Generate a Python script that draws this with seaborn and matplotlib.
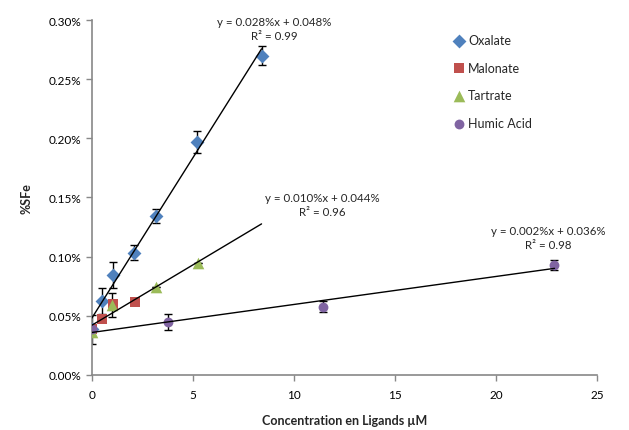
import numpy as np
import pandas as pd
import matplotlib
matplotlib.use("Agg")
import matplotlib.pyplot as plt
import seaborn as sns
from matplotlib.ticker import FuncFormatter, MultipleLocator

# values (y in %SFe, already as percent)
oxalate_x = [0, 0.51, 1.05, 2.09, 3.17, 5.21, 8.4]
oxalate_y = [0.0384, 0.0623, 0.0843, 0.1032, 0.1345, 0.197, 0.270]
oxalate_err = [0.0123, 0.011, 0.011, 0.0063, 0.006, 0.009, 0.0079]

malonate_x = [0, 0.51, 1.03, 2.13]
malonate_y = [0.0384, 0.0471, 0.060, 0.0618]

tartrate_x = [0, 1.02, 3.17, 5.26]
tartrate_y = [0.0365, 0.059, 0.0745, 0.0942]
tartrate_err = [0.0, 0.0105, 0.0, 0.0]

humic_x = [0, 3.78, 11.45, 22.9]
humic_y = [0.0384, 0.0449, 0.0576, 0.0927]
humic_err = [0.0, 0.0066, 0.0045, 0.0040]

eq_oxalate = "y = 0.028%x + 0.048%\nR² = 0.99"
eq_tartrate = "y = 0.010%x + 0.044%\nR² = 0.96"
eq_humic = "y = 0.002%x + 0.036%\nR² = 0.98"

sns.set_style("white")
plt.rcParams["font.family"] = ["Lato", "DejaVu Sans"]

fig = plt.figure(figsize=(6.29, 4.31), dpi=100)
ax = fig.add_axes([0.146, 0.128, 0.803, 0.823])

series = [
    ("Oxalate", oxalate_x, oxalate_y, oxalate_err, "D", "#4F81BD", 50),
    ("Malonate", malonate_x, malonate_y, None, "s", "#C0504D", 50),
    ("Tartrate", tartrate_x, tartrate_y, tartrate_err, "^", "#9BBB59", 70),
    ("Humic Acid", humic_x, humic_y, humic_err, "o", "#8064A2", 50),
]

for name, xs, ys, err, mk, col, sz in series:
    if err is not None:
        ax.errorbar(xs, ys, yerr=err, fmt="none", ecolor="black",
                    elinewidth=1, capsize=3, capthick=1, zorder=2)
    sns.scatterplot(x=xs, y=ys, marker=mk, color=col, s=sz, linewidth=0,
                    label=name, ax=ax, zorder=3)

# linear trendlines
fits = [
    (oxalate_x, oxalate_y, max(oxalate_x)),
    (tartrate_x, tartrate_y, max(oxalate_x)),
    (humic_x, humic_y, max(humic_x)),
]
for xs, ys, xend in fits:
    k, b = np.polyfit(xs, ys, 1)
    xx = np.array([0, xend])
    ax.plot(xx, k * xx + b, color="black", lw=1, zorder=4)

eq_kw = dict(ha="center", va="center", fontsize=8.3, linespacing=1.35, clip_on=False)
ax.text(9.03, 0.2932, eq_oxalate, **eq_kw)
ax.text(11.4, 0.1441, eq_tartrate, **eq_kw)
ax.text(22.6, 0.1158, eq_humic, **eq_kw)

ax.set_xlim(0, 25)
ax.set_ylim(0, 0.30)
ax.xaxis.set_major_locator(MultipleLocator(5))
ax.yaxis.set_major_locator(MultipleLocator(0.05))
ax.yaxis.set_major_formatter(FuncFormatter(lambda v, p: f"{v:.2f}%"))
ax.tick_params(axis="both", labelsize=8.5, colors="#888888", labelcolor="black",
               direction="out", length=4, width=1, left=True, bottom=True)
ax.tick_params(axis="x", pad=6)

for side in ["top", "right"]:
    ax.spines[side].set_visible(False)
for side in ["left", "bottom"]:
    ax.spines[side].set_color("#888888")
    ax.spines[side].set_linewidth(1.2)

ax.set_xlabel("Concentration en Ligands µM", fontsize=9, fontweight="bold", labelpad=10)
ax.set_ylabel("%SFe", fontsize=9, fontweight="bold", labelpad=12)

ax.legend(loc="upper left", bbox_to_anchor=(0.705, 0.975), frameon=False,
          fontsize=9, labelspacing=1.25, handletextpad=0.2, handlelength=1,
          borderaxespad=0)

fig.savefig("out.png", dpi=100)
